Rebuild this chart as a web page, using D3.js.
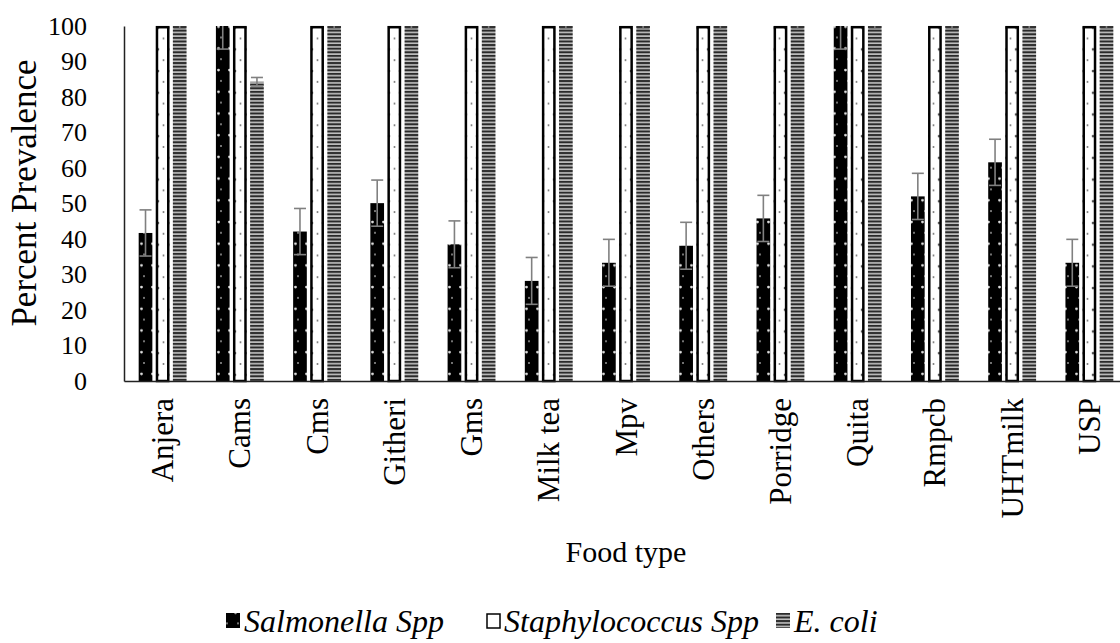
<!DOCTYPE html>
<html>
<head>
<meta charset="utf-8">
<script src="https://cdn.jsdelivr.net/npm/d3@7/dist/d3.min.js"></script>
<style>
  html, body { margin: 0; padding: 0; background: #fff; }
  svg { display: block; }
</style>
</head>
<body>
<svg id="chart" width="1120" height="643"></svg>
<script>
// Prevalence of pathogens by food type
const categories = ["Anjera", "Cams", "Cms", "Githeri", "Gms", "Milk tea", "Mpv",
                    "Others", "Porridge", "Quita", "Rmpcb", "UHTmilk", "USP"];
const seriesNames = ["Salmonella Spp", "Staphylococcus Spp", "E. coli"];

const salmonella    = [41.7, 100, 42.1, 50.1, 38.5, 28.2, 33.3, 38.1, 45.8, 100, 52.0, 61.6, 33.3];
const salmonellaErr = [6.5, 6.5, 6.5, 6.5, 6.6, 6.6, 6.6, 6.6, 6.5, 6.5, 6.5, 6.5, 6.6];
const staphylococcus = [100, 100, 100, 100, 100, 100, 100, 100, 100, 100, 100, 100, 100];
const ecoli         = [100, 84.3, 100, 100, 100, 100, 100, 100, 100, 100, 100, 100, 100];
const ecoliErr      = [0.8, 1.2, 0.8, 0.8, 0.8, 0.8, 0.8, 0.8, 0.8, 0.8, 0.8, 0.8, 0.8];
const yTicks = [0, 10, 20, 30, 40, 50, 60, 70, 80, 90, 100];

const seriesValues = [salmonella, staphylococcus, ecoli];
const seriesErrors = [salmonellaErr, null, ecoliErr];

const FONT = "Liberation Serif";

const svg = d3.select("#chart");
const plot = { left: 124, right: 1128, top: 26, bottom: 381 };

const x0 = d3.scaleBand().domain(categories).range([plot.left, plot.right])
  .paddingInner(0.38).paddingOuter(0.19);
const x1 = d3.scaleBand().domain(seriesNames).range([0, x0.bandwidth()]).paddingInner(0.2);
const y = d3.scaleLinear().domain([0, 100]).range([plot.bottom, plot.top]);

// ---- fill patterns ----
const defs = svg.append("defs");

const pSal = defs.append("pattern").attr("id", "pat-sal")
  .attr("patternUnits", "userSpaceOnUse").attr("width", 11).attr("height", 21.7);
pSal.append("rect").attr("width", 11).attr("height", 21.7).attr("fill", "#000");
pSal.append("circle").attr("cx", 9.5).attr("cy", 5).attr("r", 1.4).attr("fill", "#e0e0e0");
pSal.append("circle").attr("cx", 1).attr("cy", 15.8).attr("r", 1.0).attr("fill", "#999");

const pStaph = defs.append("pattern").attr("id", "pat-staph")
  .attr("patternUnits", "userSpaceOnUse").attr("width", 11).attr("height", 21.7);
pStaph.append("rect").attr("width", 11).attr("height", 21.7).attr("fill", "#fff");
pStaph.append("circle").attr("cx", 4).attr("cy", 6).attr("r", 1.3).attr("fill", "#555");
pStaph.append("circle").attr("cx", 9.5).attr("cy", 16.8).attr("r", 1.0).attr("fill", "#777");

const pEco = defs.append("pattern").attr("id", "pat-eco")
  .attr("patternUnits", "userSpaceOnUse").attr("width", 8).attr("height", 3.6);
pEco.append("rect").attr("width", 8).attr("height", 3.6).attr("fill", "#c4c4c4");
pEco.append("rect").attr("y", 0.9).attr("width", 8).attr("height", 2.0).attr("fill", "#2a2a2a");

const fills = ["url(#pat-sal)", "url(#pat-staph)", "url(#pat-eco)"];

defs.append("clipPath").attr("id", "plot-clip")
  .append("rect").attr("x", plot.left).attr("y", plot.top)
  .attr("width", plot.right - plot.left).attr("height", plot.bottom - plot.top);

// ---- bars ----
const rows = [];
categories.forEach((c, i) => {
  seriesNames.forEach((s, k) => {
    rows.push({ cat: c, series: s, k, value: seriesValues[k][i],
                err: seriesErrors[k] ? seriesErrors[k][i] : null });
  });
});

const barG = svg.append("g");
barG.selectAll("rect.bar").data(rows).join("rect")
  .attr("class", "bar")
  .attr("x", d => x0(d.cat) + x1(d.series))
  .attr("y", d => y(d.value))
  .attr("width", x1.bandwidth())
  .attr("height", d => y(0) - y(d.value))
  .attr("fill", d => fills[d.k]);

// outline on the Staphylococcus bars
barG.selectAll("rect.outline").data(rows.filter(d => d.k === 1)).join("rect")
  .attr("class", "outline")
  .attr("x", d => x0(d.cat) + x1(d.series) + 1.2)
  .attr("y", d => y(d.value) + 1.2)
  .attr("width", x1.bandwidth() - 2.4)
  .attr("height", d => y(0) - y(d.value) - 1.2)
  .attr("fill", "none").attr("stroke", "#000").attr("stroke-width", 2.5);

// ---- error bars ----
const errG = svg.append("g").attr("clip-path", "url(#plot-clip)")
  .attr("stroke", "#808080").attr("stroke-width", 1.6).attr("fill", "none");
rows.filter(d => d.err != null).forEach(d => {
  const cx = x0(d.cat) + x1(d.series) + x1.bandwidth() / 2;
  const yHi = y(d.value + d.err), yLo = y(d.value - d.err);
  errG.append("line").attr("x1", cx).attr("x2", cx).attr("y1", yHi).attr("y2", yLo);
  errG.append("line").attr("x1", cx - 6).attr("x2", cx + 6).attr("y1", yHi).attr("y2", yHi);
  errG.append("line").attr("x1", cx - 6).attr("x2", cx + 6).attr("y1", yLo).attr("y2", yLo);
});

// ---- axes ----
const yAxis = d3.axisLeft(y).tickValues(yTicks).tickSize(0).tickPadding(37).tickFormat(d3.format("d"));
const yG = svg.append("g").attr("transform", `translate(${plot.left},0)`).call(yAxis)
  .attr("font-family", FONT).attr("font-size", 26);
yG.select(".domain").attr("stroke", "#222").attr("stroke-width", 1.5);
yG.selectAll("text").style("font-family", FONT).style("font-size", "26px").attr("fill", "#000");

const xAxis = d3.axisBottom(x0).tickSize(0).tickPadding(0);
const xG = svg.append("g").attr("transform", `translate(0,${plot.bottom})`).call(xAxis)
  .attr("font-family", FONT).attr("font-size", 31);
xG.select(".domain").attr("stroke", "#222").attr("stroke-width", 1.5);
xG.selectAll("text")
  .style("font-family", FONT).style("font-size", "31px").attr("fill", "#000")
  .attr("text-anchor", "end")
  .attr("dy", null)
  .attr("transform", "translate(0,17) rotate(-90)")
  .attr("dominant-baseline", "central");

// ---- axis titles ----
svg.append("text")
  .attr("transform", `translate(36,193) rotate(-90)`)
  .attr("text-anchor", "middle")
  .style("font-family", FONT).style("font-size", "35px")
  .text("Percent Prevalence");

svg.append("text")
  .attr("x", (plot.left + plot.right) / 2).attr("y", 562)
  .attr("text-anchor", "middle")
  .style("font-family", FONT).style("font-size", "30px")
  .text("Food type");

// ---- legend ----
const legendItems = [
  { name: seriesNames[0], k: 0, x: 226 },
  { name: seriesNames[1], k: 1, x: 486 },
  { name: seriesNames[2], k: 2, x: 776 }
];
const lg = svg.append("g");
legendItems.forEach(it => {
  const g = lg.append("g").attr("transform", `translate(${it.x},0)`);
  if (it.k === 1) {
    g.append("rect").attr("x", 1).attr("y", 614).attr("width", 13).attr("height", 14)
      .attr("fill", "#fff").attr("stroke", "#000").attr("stroke-width", 1.5);
  } else {
    g.append("rect").attr("x", 0).attr("y", 613).attr("width", 14).attr("height", 15)
      .attr("fill", fills[it.k]);
  }
  g.append("text").attr("x", 18).attr("y", 632)
    .style("font-family", FONT).style("font-size", "32px").style("font-style", "italic")
    .text(it.name);
});
</script>
</body>
</html>
